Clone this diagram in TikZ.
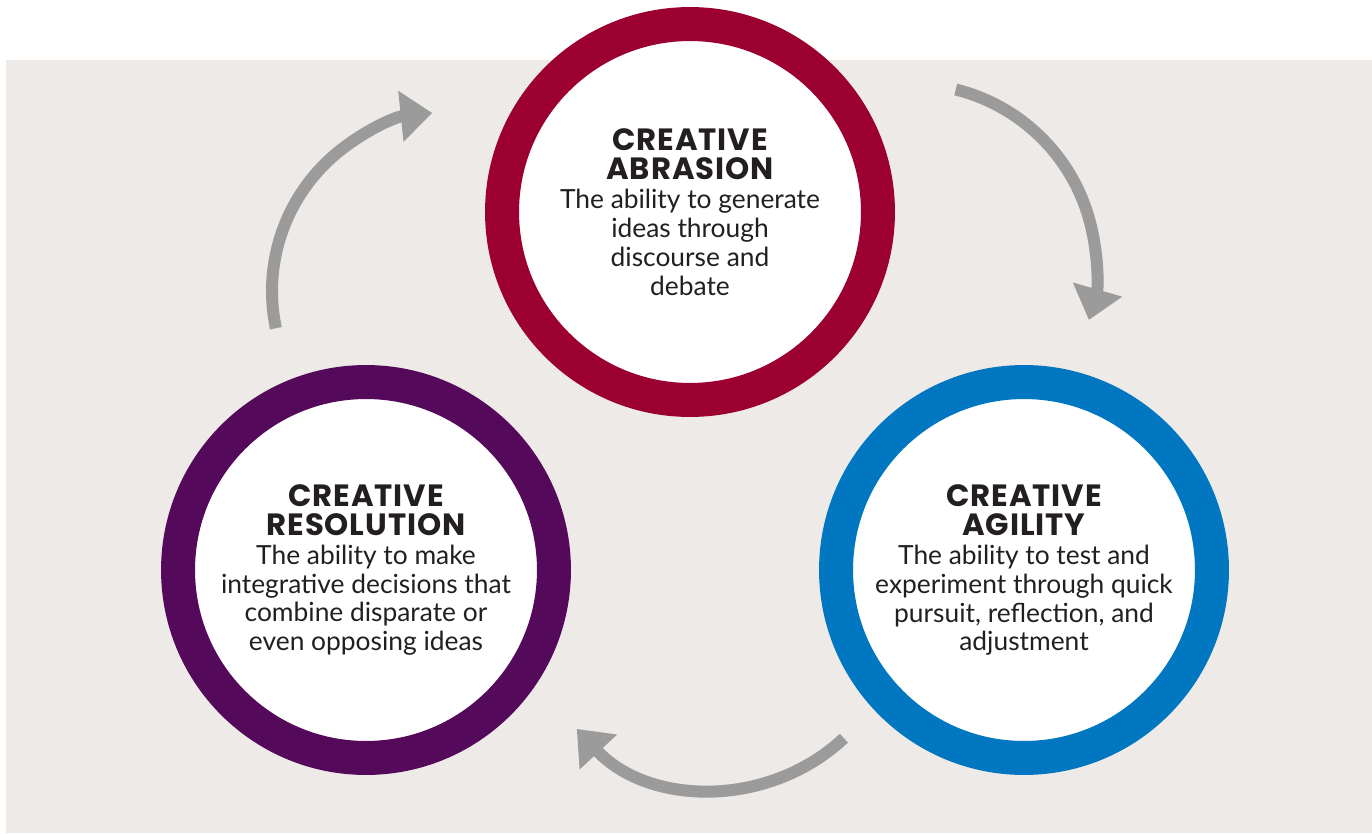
\documentclass[tikz,border=0pt]{standalone}
\usepackage{fontspec}
\setmainfont{Lato}
\newfontfamily\headfont{Poppins}[LetterSpace=3]
\usetikzlibrary{arrows.meta}

\definecolor{abrasion}{RGB}{155,0,48}
\definecolor{agility}{RGB}{0,119,192}
\definecolor{resolution}{RGB}{85,9,90}
\definecolor{paper}{RGB}{237,234,231}
\definecolor{flowgray}{RGB}{155,155,155}
\definecolor{ink}{RGB}{35,31,32}

\newcommand{\head}[1]{{\headfont\fontsize{17.5}{17}\selectfont\bfseries #1}}

\begin{document}
\begin{tikzpicture}[x=0.02cm,y=0.02cm,>={Triangle[length=18pt,width=28pt]},
	ring/.style={circle,fill=white,line width=0.68cm,minimum size=7.52cm,
		inner sep=0pt,align=center,text=ink,font=\fontsize{15}{16.5}\selectfont},
	flow/.style={->,draw=flowgray,line width=0.24cm}]

\useasboundingbox (0,0) rectangle (1372,833);
\fill[color=paper] (6,0) rectangle (1372,773);

\node[ring,draw=abrasion] (abrasion) at (690,621)
	{\head{CREATIVE}\\\head{ABRASION}\\The ability to generate\\ideas through\\discourse and\\debate};
\node[ring,draw=agility] (agility) at (1024,263)
	{\head{CREATIVE}\\\head{AGILITY}\\The ability to test and\\experiment through quick\\pursuit, reflection, and\\adjustment};
\node[ring,draw=resolution] (resolution) at (366,263)
	{\head{CREATIVE}\\\head{RESOLUTION}\\The ability to make\\integrative decisions that\\combine disparate or\\even opposing ideas};

\coordinate (fromres) at ([shift={(192:179)}]451,542);
\coordinate (fromabr) at ([shift={(76:185)}]911,564);
\coordinate (fromagi) at ([shift={(-47:189)}]715,233);

\draw[flow] (fromres) arc[start angle=192,end angle=96,radius=179];
\draw[flow] (fromabr) arc[start angle=76,end angle=-16,radius=185];
\draw[flow] (fromagi) arc[start angle=-47,end angle=-137,radius=189];

\end{tikzpicture}
\end{document}
